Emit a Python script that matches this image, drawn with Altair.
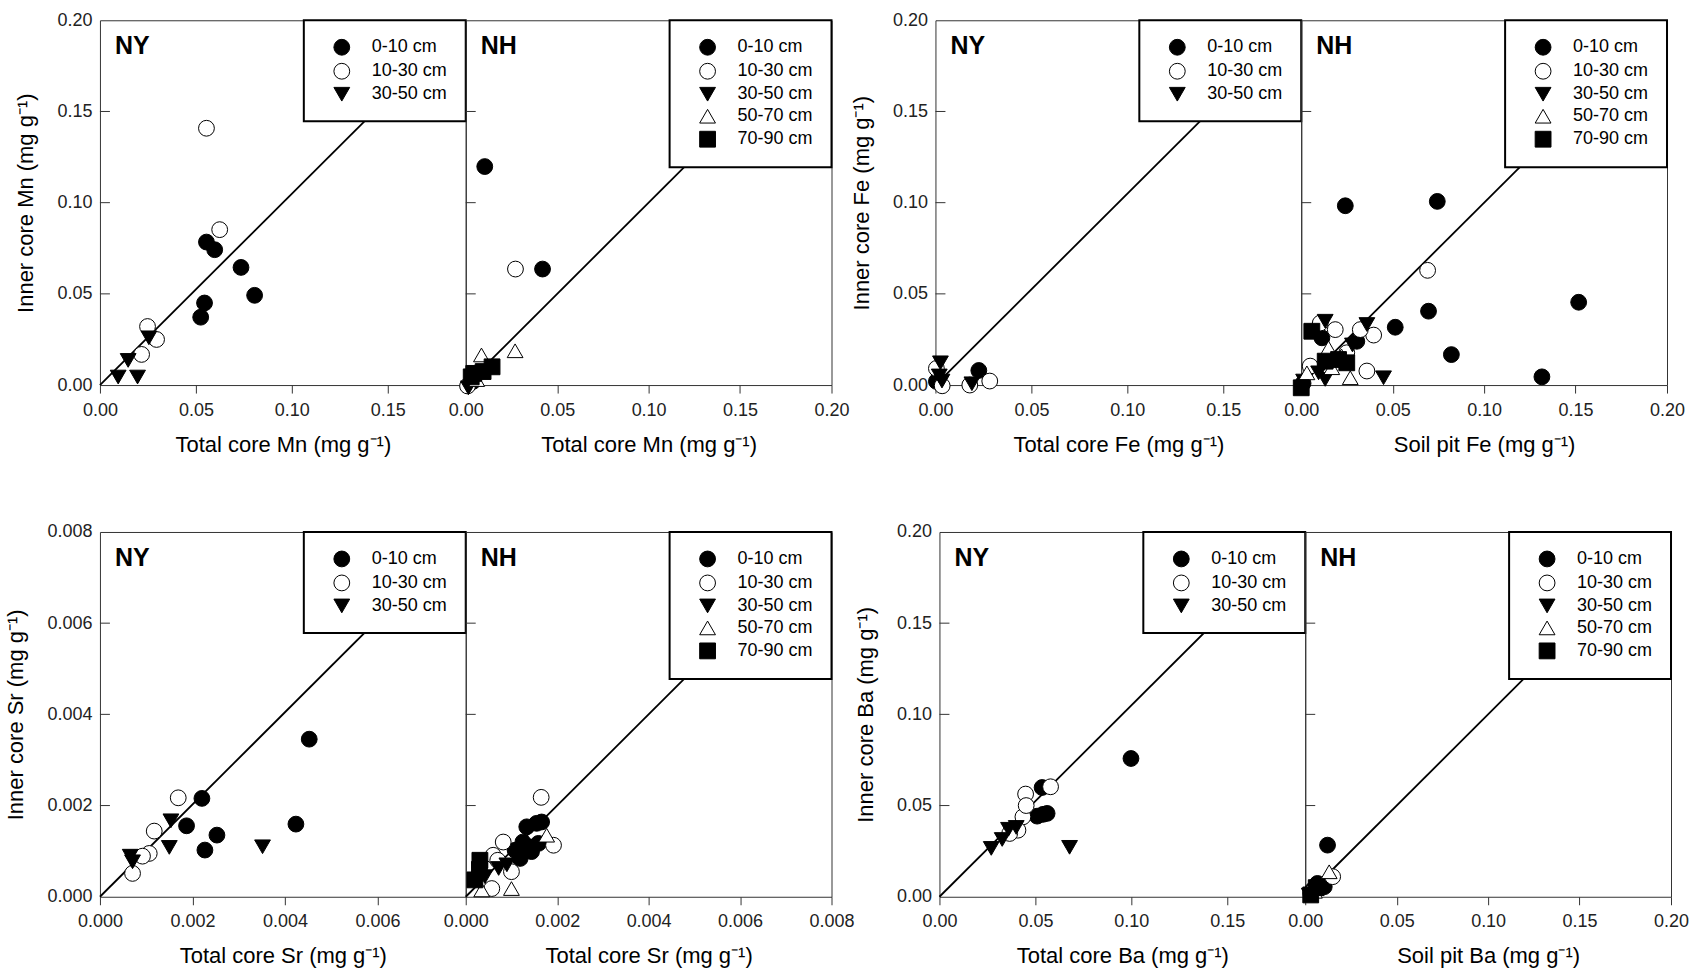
import altair as alt
import pandas as pd

FONT = "Liberation Sans"

DEPTH_LABELS = ["0-10 cm", "10-30 cm", "30-50 cm", "50-70 cm", "70-90 cm"]
DEPTH_SHAPES = ["circle", "circle", "triangle-down", "triangle-up", "square"]
DEPTH_FILLS = ["black", "white", "black", "white", "black"]

D0, D10, D30, D50, D70 = DEPTH_LABELS

# ---------------- Mn ----------------
mn_ny_depth = [D0] * 6 + [D10] * 5 + [D30] * 4
mn_ny_total = [0.0555, 0.0598, 0.0735, 0.0806, 0.0545, 0.0525,
               0.0555, 0.0624, 0.0248, 0.0295, 0.0217,
               0.0255, 0.0147, 0.0095, 0.0196]
mn_ny_inner = [0.0784, 0.0742, 0.0645, 0.0492, 0.0450, 0.0372,
               0.1408, 0.0852, 0.0321, 0.0250, 0.0168,
               0.0259, 0.0135, 0.0044, 0.0044]

mn_nh_depth = [D0] * 3 + [D10] * 2 + [D30] * 1 + [D50] * 3 + [D70] * 4
mn_nh_total = [0.0104, 0.0420, 0.0040,
               0.0272, 0.0010,
               0.0015,
               0.0086, 0.0270, 0.0060,
               0.0044, 0.0095, 0.0144, 0.0030]
mn_nh_inner = [0.1198, 0.0636, 0.0020,
               0.0636, -0.0005,
               -0.0015,
               0.0165, 0.0188, 0.0030,
               0.0064, 0.0074, 0.0100, 0.0045]

# ---------------- Fe ----------------
fe_ny_depth = [D0] * 2 + [D10] * 4 + [D30] * 4
fe_ny_total = [0.0226, 0.0005,
               0.0283, 0.0179, 0.0005, 0.0035,
               0.0190, 0.0026, 0.0034, 0.0020]
fe_ny_inner = [0.0080, 0.0020,
               0.0022, 0.0000, 0.0091, -0.0004,
               0.0007, 0.0122, 0.0022, 0.0050]

fe_nh_depth = [D0] * 10 + [D10] * 8 + [D30] * 7 + [D50] * 5 + [D70] * 5
fe_nh_total = [0.0241, 0.0744, 0.1517, 0.0696, 0.0514, 0.0821, 0.1316, 0.0113, 0.0304, 0.0010,
               0.0691, 0.0396, 0.0359, 0.0186, 0.0323, 0.0104, 0.0249, 0.0049,
               0.0131, 0.0359, 0.0450, 0.0131, 0.0095, 0.0013, 0.0280,
               0.0149, 0.0167, 0.0268, 0.0031, 0.0220,
               0.0058, 0.0249, 0.0204, 0.0131, 0.0000]
fe_nh_inner = [0.0983, 0.1007, 0.0454, 0.0405, 0.0317, 0.0167, 0.0045, 0.0259, 0.0240, 0.0010,
               0.0629, 0.0274, 0.0077, 0.0304, 0.0304, 0.0340, 0.0177, 0.0104,
               0.0350, 0.0332, 0.0040, 0.0031, 0.0067, 0.0022, 0.0220,
               0.0204, 0.0095, 0.0040, 0.0067, 0.0160,
               0.0295, 0.0122, 0.0140, 0.0131, -0.0015]

# ---------------- Sr ----------------
sr_ny_depth = [D0] * 6 + [D10] * 5 + [D30] * 5
sr_ny_total = [0.004526, 0.002205, 0.001873, 0.002530, 0.002270, 0.004238,
               0.001693, 0.001174, 0.001066, 0.000920, 0.000705,
               0.001535, 0.001500, 0.003516, 0.000655, 0.000705]
sr_ny_inner = [0.003456, 0.002157, 0.001556, 0.001352, 0.001024, 0.001593,
               0.002170, 0.001440, 0.000950, 0.000890, 0.000512,
               0.001666, 0.001082, 0.001096, 0.000890, 0.000767]

sr_nh_depth = [D0] * 9 + [D10] * 7 + [D30] * 5 + [D50] * 3 + [D70] * 3
sr_nh_total = [0.001335, 0.001550, 0.001660, 0.001080, 0.001370, 0.001590, 0.001190, 0.001440, 0.001250,
               0.001650, 0.001920, 0.000820, 0.000600, 0.001000, 0.000570, 0.000700,
               0.000420, 0.000720, 0.001100, 0.001300, 0.000900,
               0.001770, 0.001000, 0.000350,
               0.000310, 0.000200, 0.000300]
sr_nh_inner = [0.001534, 0.001610, 0.001640, 0.001020, 0.001100, 0.001170, 0.000840, 0.000990, 0.001200,
               0.002180, 0.001130, 0.001200, 0.000910, 0.000550, 0.000180, 0.000800,
               0.000440, 0.000620, 0.000900, 0.001100, 0.000700,
               0.001350, 0.000180, 0.000150,
               0.000800, 0.000370, 0.000600]

# ---------------- Ba ----------------
ba_ny_depth = [D0] * 5 + [D10] * 6 + [D30] * 5
ba_ny_total = [0.0998, 0.0535, 0.0561, 0.0509, 0.0540,
               0.0449, 0.0579, 0.0435, 0.0452, 0.0409, 0.0366,
               0.0678, 0.0270, 0.0327, 0.0360, 0.0400]
ba_ny_inner = [0.0758, 0.0599, 0.0457, 0.0442, 0.0452,
               0.0563, 0.0603, 0.0438, 0.0500, 0.0365, 0.0347,
               0.0271, 0.0265, 0.0314, 0.0370, 0.0380]

ba_nh_depth = [D0] * 4 + [D10] * 2 + [D30] * 2 + [D50] * 2 + [D70] * 2
ba_nh_total = [0.0122, 0.0067, 0.0104, 0.0040,
               0.0150, 0.0030,
               0.0022, 0.0080,
               0.0131, 0.0050,
               0.0060, 0.0030]
ba_nh_inner = [0.0283, 0.0073, 0.0055, 0.0037,
               0.0110, 0.0020,
               0.0009, 0.0040,
               0.0137, 0.0030,
               0.0050, 0.0010]

# axis domains and tick positions
ny_mg_domain = [0, 0.1906]
nh_mg_domain = [0, 0.20]
mg_y_domain = [0, 0.20]
ny_sr_domain = [0, 0.00791]
nh_sr_domain = [0, 0.008]
sr_y_domain = [0, 0.008]

ny_mg_xticks = [0, 0.05, 0.10, 0.15]
nh_mg_xticks = [0, 0.05, 0.10, 0.15, 0.20]
mg_yticks = [0, 0.05, 0.10, 0.15, 0.20]
mg_inner_ticks = [0.05, 0.10, 0.15]
ny_sr_xticks = [0, 0.002, 0.004, 0.006]
nh_sr_xticks = [0, 0.002, 0.004, 0.006, 0.008]
sr_yticks = [0, 0.002, 0.004, 0.006, 0.008]
sr_inner_ticks = [0.002, 0.004, 0.006]

W, H = 366, 365


def panel(site, depth, xs, ys, x_dom, y_dom, x_ticks, y_ticks, inner_ticks,
          fmt, x_title, y_title, left_axis):
    levels = [d for d in DEPTH_LABELS if d in depth]
    idx = [DEPTH_LABELS.index(d) for d in levels]
    pts = pd.DataFrame({"x": xs, "y": ys, "depth": depth})

    x_axis = alt.Axis(values=x_ticks, format=fmt, title=x_title, ticks=True,
                      tickSize=8, labelPadding=8, titlePadding=15, labelFlush=False)
    if left_axis:
        y_axis = alt.Axis(values=y_ticks, format=fmt, title=y_title, ticks=False,
                          labelPadding=8, titlePadding=19, labelFlush=False)
    else:
        y_axis = alt.Axis(values=y_ticks, labels=False, ticks=False, title=None)

    xenc = alt.X("x:Q", scale=alt.Scale(domain=x_dom, nice=False, zero=False), axis=x_axis)
    yenc = alt.Y("y:Q", scale=alt.Scale(domain=y_dom, nice=False, zero=False), axis=y_axis)

    legend = alt.Legend(
        title=None, orient="top-right", offset=0, padding=18,
        fillColor="white", strokeColor="black",
        labelFont=FONT, labelFontSize=18, labelColor="black", labelLimit=200,
        symbolSize=250, symbolStrokeColor="black", symbolStrokeWidth=1,
        symbolOffset=11, labelOffset=21, rowPadding=4,
    )
    fill = alt.Fill("depth:N", legend=legend, sort=levels,
                    scale=alt.Scale(domain=levels, range=[DEPTH_FILLS[i] for i in idx]))
    shape = alt.Shape("depth:N", legend=legend, sort=levels,
                      scale=alt.Scale(domain=levels, range=[DEPTH_SHAPES[i] for i in idx]))
    stroke = alt.Stroke("depth:N", legend=legend, sort=levels,
                        scale=alt.Scale(domain=levels, range=["black"] * len(levels)))

    one_to_one = alt.Chart(pd.DataFrame({"x": x_dom, "y": y_dom})).mark_line(
        color="black", strokeWidth=1.8).encode(x=xenc, y=yenc)

    points = alt.Chart(pts).mark_point(
        filled=True, size=250, strokeWidth=1, opacity=1
    ).encode(x=xenc, y=yenc, fill=fill, shape=shape, stroke=stroke)

    ticks = alt.Chart(pd.DataFrame({"y": inner_ticks})).mark_rule(
        color="#333", strokeWidth=1).encode(y=yenc, x=alt.value(0), x2=alt.value(10))

    label = alt.Chart(pd.DataFrame({"t": [site]})).mark_text(
        font=FONT, fontSize=25, fontWeight="bold", align="left",
        baseline="alphabetic", color="black"
    ).encode(text="t:N", x=alt.value(15), y=alt.value(34))

    return alt.layer(one_to_one, points, ticks, label).properties(width=W, height=H)


def spacer(w):
    return alt.Chart(pd.DataFrame({"v": [0]})).mark_point(opacity=0).encode(
        x=alt.value(0), y=alt.value(0)
    ).properties(width=w, height=H, view=alt.ViewBackground(stroke="transparent"))


def unit(mg):
    return f"{mg} (mg g\u207b\u00b9)"


p_mn_ny = panel("NY", mn_ny_depth, mn_ny_total, mn_ny_inner, ny_mg_domain, mg_y_domain,
                ny_mg_xticks, mg_yticks, mg_inner_ticks, ".2f",
                unit("Total core Mn"), unit("Inner core Mn"), True)
p_mn_nh = panel("NH", mn_nh_depth, mn_nh_total, mn_nh_inner, nh_mg_domain, mg_y_domain,
                nh_mg_xticks, mg_yticks, mg_inner_ticks, ".2f",
                unit("Total core Mn"), "", False)
p_fe_ny = panel("NY", fe_ny_depth, fe_ny_total, fe_ny_inner, ny_mg_domain, mg_y_domain,
                ny_mg_xticks, mg_yticks, mg_inner_ticks, ".2f",
                unit("Total core Fe"), unit("Inner core Fe"), True)
p_fe_nh = panel("NH", fe_nh_depth, fe_nh_total, fe_nh_inner, nh_mg_domain, mg_y_domain,
                nh_mg_xticks, mg_yticks, mg_inner_ticks, ".2f",
                unit("Soil pit Fe"), "", False)
p_sr_ny = panel("NY", sr_ny_depth, sr_ny_total, sr_ny_inner, ny_sr_domain, sr_y_domain,
                ny_sr_xticks, sr_yticks, sr_inner_ticks, ".3f",
                unit("Total core Sr"), unit("Inner core Sr"), True)
p_sr_nh = panel("NH", sr_nh_depth, sr_nh_total, sr_nh_inner, nh_sr_domain, sr_y_domain,
                nh_sr_xticks, sr_yticks, sr_inner_ticks, ".3f",
                unit("Total core Sr"), "", False)
p_ba_ny = panel("NY", ba_ny_depth, ba_ny_total, ba_ny_inner, ny_mg_domain, mg_y_domain,
                ny_mg_xticks, mg_yticks, mg_inner_ticks, ".2f",
                unit("Total core Ba"), unit("Inner core Ba"), True)
p_ba_nh = panel("NH", ba_nh_depth, ba_nh_total, ba_nh_inner, nh_mg_domain, mg_y_domain,
                nh_mg_xticks, mg_yticks, mg_inner_ticks, ".2f",
                unit("Soil pit Ba"), "", False)

indep = dict(x="independent", y="independent", fill="independent",
             shape="independent", stroke="independent")
indep_leg = dict(fill="independent", shape="independent", stroke="independent")

row1 = alt.hconcat(p_mn_ny, p_mn_nh, spacer(104), p_fe_ny, p_fe_nh,
                   spacing=0, bounds="flush").resolve_scale(**indep).resolve_legend(**indep_leg)
row2 = alt.hconcat(p_sr_ny, p_sr_nh, spacer(108), p_ba_ny, p_ba_nh,
                   spacing=0, bounds="flush").resolve_scale(**indep).resolve_legend(**indep_leg)

chart = alt.vconcat(row1, row2, spacing=66).resolve_scale(
    **indep).resolve_legend(**indep_leg).properties(
    padding={"left": 4, "top": 10, "right": 0, "bottom": 0},
    background="white",
).configure_axis(
    labelFont=FONT, labelFontSize=18, labelColor="#222",
    titleFont=FONT, titleFontSize=22, titleFontWeight="normal", titleColor="black",
    domain=False, grid=False, tickColor="#333", tickWidth=1,
).configure_view(
    stroke="#333", strokeWidth=1,
).configure_legend(
    strokeWidth=2,
)

chart.save("out.html", embed_options={"renderer": "svg", "actions": False})
